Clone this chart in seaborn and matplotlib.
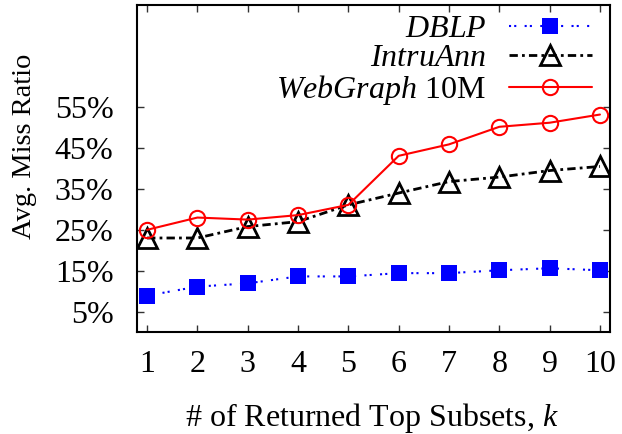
import matplotlib
matplotlib.use("Agg")
import matplotlib.pyplot as plt
import seaborn as sns
import numpy as np

k = [1, 2, 3, 4, 5, 6, 7, 8, 9, 10]
dblp = [8.9, 11.1, 11.9, 13.6, 13.6, 14.4, 14.4, 15.1, 15.6, 15.1]
intruann = [23.0, 23.0, 25.8, 27.0, 31.1, 34.0, 36.8, 37.9, 39.5, 40.5]
webgraph = [25.0, 28.0, 27.5, 28.6, 31.1, 43.1, 45.9, 50.2, 51.2, 53.2]
yticks = [5, 15, 25, 35, 45, 55]
ytick_labels = ["5%", "15%", "25%", "35%", "45%", "55%"]
labels = [r"$\mathit{DBLP}$", r"$\mathit{IntruAnn}$", r"$\mathit{WebGraph}$ 10M"]

sns.set_theme(style="ticks")
plt.rcParams["font.family"] = ["Liberation Serif", "DejaVu Serif"]
plt.rcParams["mathtext.fontset"] = "custom"
plt.rcParams["mathtext.rm"] = "Liberation Serif"
plt.rcParams["mathtext.it"] = "Liberation Serif:italic"
for key in ["text.color", "axes.labelcolor", "xtick.color", "ytick.color",
            "xtick.labelcolor", "ytick.labelcolor"]:
    plt.rcParams[key] = "black"

FS = 23

fig, ax = plt.subplots(figsize=(6.22, 4.34), dpi=100)
fig.subplots_adjust(left=0.2203, right=0.9807, top=0.9885, bottom=0.235)

sns.lineplot(x=k, y=dblp, ax=ax, color="#0000ff", marker="s", markersize=11,
             markeredgewidth=0, linestyle=(0, (1, 1.5, 1, 4)), linewidth=1.5,
             label=labels[0])
sns.lineplot(x=k, y=intruann, ax=ax, color="black", marker="^", markersize=14,
             markerfacecolor="none", markeredgecolor="black", markeredgewidth=2,
             linestyle=(0, (3, 1.5, 1, 1.5)), linewidth=2, label=labels[1])
sns.lineplot(x=k, y=webgraph, ax=ax, color="#ff0000", marker="o", markersize=11,
             markerfacecolor="none", markeredgecolor="#ff0000", markeredgewidth=1.5,
             linestyle="-", linewidth=1.5, label=labels[2])

ax.set_xlim(0.8, 10.2)
ax.set_ylim(0, 80)
ax.set_xticks(k)
ax.set_xticklabels([str(v) for v in k])
ax.set_yticks(yticks)
ax.set_yticklabels(ytick_labels)
ax.tick_params(direction="in", length=5, width=1, top=True, right=True,
               labelsize=FS, color="#333333", labelcolor="black")
ax.tick_params(axis="x", pad=13)
ax.tick_params(axis="y", pad=17)
for s in ax.spines.values():
    s.set_linewidth(1.5)
    s.set_color("black")

ax.set_xlabel(r"# of Returned Top Subsets, $k$", fontsize=FS, color="black")
ax.set_ylabel("Avg. Miss Ratio", fontsize=20.5, color="black")
ax.yaxis.set_label_coords(-0.212, 0.569)
ax.xaxis.set_label_coords(0.497, -0.212)

leg = ax.legend(loc="upper right", bbox_to_anchor=(0.968, 0.98), markerfirst=False,
                frameon=False, fontsize=FS, handlelength=2.6, handletextpad=0.7,
                labelspacing=0.0, borderpad=0.1, borderaxespad=0.0)
for t in leg.get_texts():
    t.set_color("black")

fig.savefig("out.png", dpi=100)
